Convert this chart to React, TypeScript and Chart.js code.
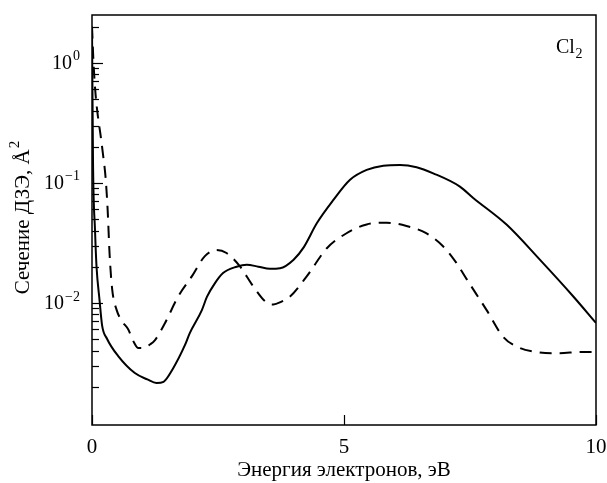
import { useEffect, useRef } from "react";
import { Chart, registerables } from "chart.js";
Chart.register(...registerables);

const solidEnergy = [0, 0.02, 0.06, 0.09, 0.15, 0.2, 0.3, 0.52, 0.85, 1.1, 1.28, 1.42, 1.6, 1.85, 1.94, 2.18, 2.28, 2.44, 2.6, 2.87, 3.07, 3.3, 3.53, 3.73, 4.0, 4.2, 4.46, 4.79, 5.12, 5.45, 5.78, 6.11, 6.44, 6.77, 7.3, 7.57, 8.23, 8.89, 9.55, 10];
const solidSigma = [2.0, 0.15, 0.04, 0.02, 0.0105, 0.0065, 0.005, 0.0036, 0.0026, 0.0023, 0.00215, 0.0022, 0.0028, 0.0045, 0.0056, 0.0087, 0.0112, 0.0146, 0.0177, 0.02, 0.0208, 0.02, 0.0192, 0.0194, 0.0229, 0.029, 0.046, 0.072, 0.106, 0.128, 0.139, 0.141, 0.135, 0.12, 0.093, 0.0745, 0.0447, 0.0228, 0.0113, 0.0068];

const dashedEnergy = [0, 0.03, 0.07, 0.12, 0.17, 0.22, 0.27, 0.31, 0.35, 0.4, 0.49, 0.6, 0.72, 0.82, 0.92, 1.02, 1.15, 1.25, 1.45, 1.71, 1.98, 2.24, 2.47, 2.67, 2.94, 3.2, 3.47, 3.6, 3.75, 3.93, 4.26, 4.66, 5.05, 5.45, 5.85, 6.24, 6.63, 6.97, 7.23, 7.44, 7.83, 8.16, 8.49, 8.8, 9.22, 9.75, 9.95];
const dashedSigma = [2.0, 1.0, 0.55, 0.35, 0.25, 0.17, 0.11, 0.06, 0.025, 0.013, 0.0087, 0.007, 0.006, 0.0048, 0.0042, 0.0042, 0.0045, 0.0049, 0.0068, 0.0113, 0.0166, 0.0245, 0.0276, 0.026, 0.02, 0.0137, 0.01, 0.0097, 0.0102, 0.0113, 0.0166, 0.0285, 0.038, 0.045, 0.0465, 0.0437, 0.038, 0.0295, 0.0215, 0.0156, 0.0087, 0.0052, 0.0042, 0.0039, 0.0038, 0.0039, 0.0039];

const xTickValues = [0, 5, 10];
const yDecades = [1, 0.1, 0.01];
const yDecadeBase = "10";
const yDecadeExponents = ["0", "−1", "−2"];
const xTitle = "Энергия электронов, эВ";
const yTitleMain = "Сечение ДЗЭ, Å";
const yTitleSup = "2";
const gasName = "Cl";
const gasSubscript = "2";

const FONT = "'Liberation Serif', 'Times New Roman', serif";

export default function App() {
  const ref = useRef<HTMLCanvasElement>(null);
  useEffect(() => {
    if (!ref.current) return;
    const framePlugin = {
      id: "framePlugin",
      afterDraw(chart: any) {
        const ctx = chart.ctx;
        const a = chart.chartArea;
        const xs = chart.scales.x;
        const ys = chart.scales.y;
        ctx.save();
        ctx.strokeStyle = "#000";
        ctx.lineWidth = 1.5;
        ctx.strokeRect(a.left, a.top, a.right - a.left, a.bottom - a.top);
        ctx.lineWidth = 1.2;
        // y ticks inside
        ys.ticks.forEach((t: any) => {
          const v = t.value;
          const e = Math.floor(Math.log10(v) + 1e-9);
          const m = v / Math.pow(10, e);
          const mr = Math.round(m);
          if (Math.abs(m - mr) > 1e-6 || mr < 1 || mr > 9) return;
          const y = Math.round(ys.getPixelForValue(v)) + 0.5;
          const len = mr === 1 ? 11 : 7;
          ctx.beginPath();
          ctx.moveTo(a.left, y);
          ctx.lineTo(a.left + len, y);
          ctx.stroke();
        });
        // x ticks inside
        xTickValues.forEach((v) => {
          const x = Math.round(xs.getPixelForValue(v)) + 0.5;
          ctx.beginPath();
          ctx.moveTo(x, a.bottom);
          ctx.lineTo(x, a.bottom - 10);
          ctx.stroke();
        });
        ctx.fillStyle = "#000";
        // y decade labels with superscripts
        yDecades.forEach((d, i) => {
          const y = ys.getPixelForValue(d);
          ctx.font = `14px ${FONT}`;
          const sw = ctx.measureText(yDecadeExponents[i]).width;
          const right = a.left - 12;
          ctx.textBaseline = "middle";
          ctx.textAlign = "right";
          ctx.font = `20px ${FONT}`;
          ctx.fillText(yDecadeBase, right - sw - 1, y + 1);
          ctx.textAlign = "left";
          ctx.font = `14px ${FONT}`;
          ctx.fillText(yDecadeExponents[i], right - sw, y - 6);
        });
        // titles
        ctx.font = `21px ${FONT}`;
        ctx.textAlign = "center";
        ctx.textBaseline = "middle";
        ctx.fillText(xTitle, (a.left + a.right) / 2, 462);
        ctx.save();
        ctx.translate(15, 210);
        ctx.rotate(-Math.PI / 2);
        ctx.font = `21px ${FONT}`;
        const mw = ctx.measureText(yTitleMain).width;
        ctx.font = `15px ${FONT}`;
        const sw2 = ctx.measureText(yTitleSup).width;
        const start = -(mw + sw2) / 2;
        ctx.textAlign = "left";
        ctx.font = `21px ${FONT}`;
        ctx.fillText(yTitleMain, start, 0);
        ctx.font = `15px ${FONT}`;
        ctx.fillText(yTitleSup, start + mw + 1, -8);
        ctx.restore();
        // gas label
        ctx.textAlign = "left";
        ctx.textBaseline = "alphabetic";
        ctx.font = `20px ${FONT}`;
        ctx.fillText(gasName, 548, 45);
        const w = ctx.measureText(gasName).width;
        ctx.font = `14px ${FONT}`;
        ctx.fillText(gasSubscript, 548 + w + 0.5, 50);
        ctx.restore();
      },
    };

    const chart = new Chart(ref.current, {
      type: "line",
      data: {
        datasets: [
          {
            data: solidEnergy.map((x, i) => ({ x, y: solidSigma[i] })),
            borderColor: "#000",
            borderWidth: 2,
            pointRadius: 0,
            fill: false,
            cubicInterpolationMode: "monotone",
          },
          {
            data: dashedEnergy.map((x, i) => ({ x, y: dashedSigma[i] })),
            borderColor: "#000",
            borderWidth: 2,
            borderDash: [12, 8],
            pointRadius: 0,
            fill: false,
            cubicInterpolationMode: "monotone",
          },
        ],
      },
      options: {
        animation: false,
        responsive: false,
        layout: { padding: { top: 7, right: 11, left: 0, bottom: 0 } },
        plugins: { legend: { display: false }, tooltip: { enabled: false } },
        scales: {
          x: {
            type: "linear",
            min: 0,
            max: 10,
            afterFit: (s: any) => {
              s.height = 58;
              s.paddingLeft = 0;
              s.paddingRight = 0;
              s.paddingTop = 0;
              s.paddingBottom = 0;
            },
            afterBuildTicks: (s: any) => {
              s.ticks = xTickValues.map((v) => ({ value: v }));
            },
            ticks: {
              color: "#000",
              font: { family: FONT, size: 21 },
              padding: 10,
              maxRotation: 0,
              autoSkip: false,
              callback: (v: any) => String(v),
            },
            grid: { display: false, drawTicks: false },
            border: { display: false },
          },
          y: {
            type: "logarithmic",
            min: 0.00096,
            max: 2.5,
            afterFit: (s: any) => {
              s.width = 84;
              s.paddingLeft = 0;
              s.paddingRight = 0;
              s.paddingTop = 0;
              s.paddingBottom = 0;
            },
            ticks: {
              display: false,
              autoSkip: false,
            },
            grid: { display: false, drawTicks: false },
            border: { display: false },
          },
        },
      },
      plugins: [framePlugin],
    } as any);
    return () => chart.destroy();
  }, []);
  return (
    <canvas
      ref={ref}
      width={599}
      height={475}
      style={{ display: "block", position: "absolute", left: 8, top: 8 }}
    />
  );
}
